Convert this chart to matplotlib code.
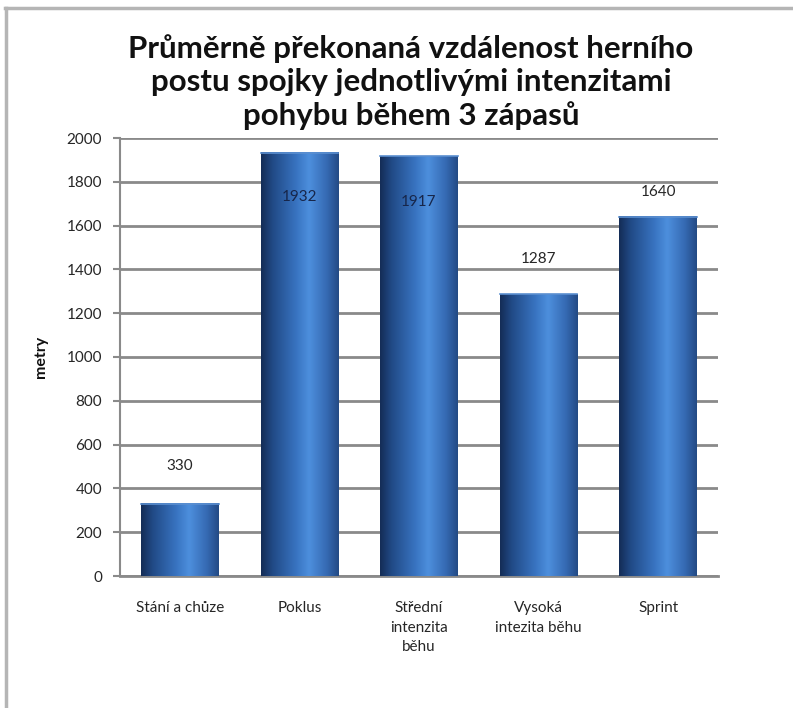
import matplotlib
matplotlib.use("Agg")
import matplotlib.pyplot as plt
import numpy as np
from matplotlib.colors import LinearSegmentedColormap
from matplotlib.lines import Line2D

categories = ["Stání a chůze", "Poklus", "Střední\nintenzita\nběhu", "Vysoká\nintezita běhu", "Sprint"]
values = [330, 1932, 1917, 1287, 1640]
inside = [False, True, True, False, False]
yticks = [0, 200, 400, 600, 800, 1000, 1200, 1400, 1600, 1800, 2000]
title = "Průměrně překonaná vzdálenost herního\npostu spojky jednotlivými intenzitami\npohybu během 3 zápasů"
ylabel = "metry"

# label offsets in points (style)
label_offsets = [27, -32, -33, 25, 18]

plt.rcParams['font.family'] = ['Lato', 'DejaVu Sans']

fig = plt.figure(figsize=(7.93, 7.08), dpi=100)
ax = fig.add_axes([120/793, 1-576/708, (718-120)/793, (576-138)/708])

x = np.arange(len(categories))
bars = ax.bar(x, values, width=0.65, color='none', zorder=3)

cmap = LinearSegmentedColormap.from_list('cyl', [
    (0.0, '#142c56'), (0.15, '#214a86'), (0.45, '#3873c0'),
    (0.62, '#4d8fdd'), (0.85, '#3569b2'), (1.0, '#234a84')])
grad = np.linspace(0, 1, 256).reshape(1, -1)
for b in bars:
    x0, w, h = b.get_x(), b.get_width(), b.get_height()
    ax.imshow(grad, cmap=cmap, aspect='auto', extent=[x0, x0 + w, 0, h],
              zorder=3, interpolation='bicubic')
    ax.plot([x0, x0 + w], [h, h], color='#5b8fd0', lw=1.2, zorder=4)

for xi, v, ins, off in zip(x, values, inside, label_offsets):
    ax.annotate(str(v), (xi, v), xytext=(0, off), textcoords='offset points',
                ha='center', va='center', fontsize=11,
                color='#17264a' if ins else '#262626', zorder=5)

ax.set_xlim(-0.5, len(categories) - 0.5)
ax.set_ylim(0, 2000)
ax.set_yticks(yticks)
ax.set_yticklabels([str(t) for t in yticks], fontsize=11, color='#262626')
ax.set_xticks(x)
ax.set_xticklabels(categories, fontsize=11, va='top', linespacing=1.5, color='#262626')
ax.tick_params(axis='x', length=0, pad=18)
ax.tick_params(axis='y', length=5, width=1.5, color='#8a8a8a', pad=8)
ax.yaxis.grid(True, color='#8a8a8a', lw=2)
ax.set_axisbelow(True)
for s in ['top', 'right']:
    ax.spines[s].set_visible(False)
ax.spines['left'].set_color('#8a8a8a')
ax.spines['left'].set_linewidth(1.5)
ax.spines['bottom'].set_color('#8a8a8a')
ax.spines['bottom'].set_linewidth(2)

ax.set_ylabel(ylabel, fontsize=11.5, fontweight='bold', labelpad=13, color='#111111')

fig.text(411/793, 1-82/708, title, ha='center', va='center', fontsize=22.5,
         fontweight='bold', linespacing=1.22, color='#111111')

# outer frame (top and left edges)
fig.add_artist(Line2D([5/793, 1], [1-8/708, 1-8/708], color='#b5b5b5', lw=2.5, transform=fig.transFigure))
fig.add_artist(Line2D([6/793, 6/793], [0, 1-8/708], color='#b5b5b5', lw=2.5, transform=fig.transFigure))

fig.savefig('out.png', dpi=100)
